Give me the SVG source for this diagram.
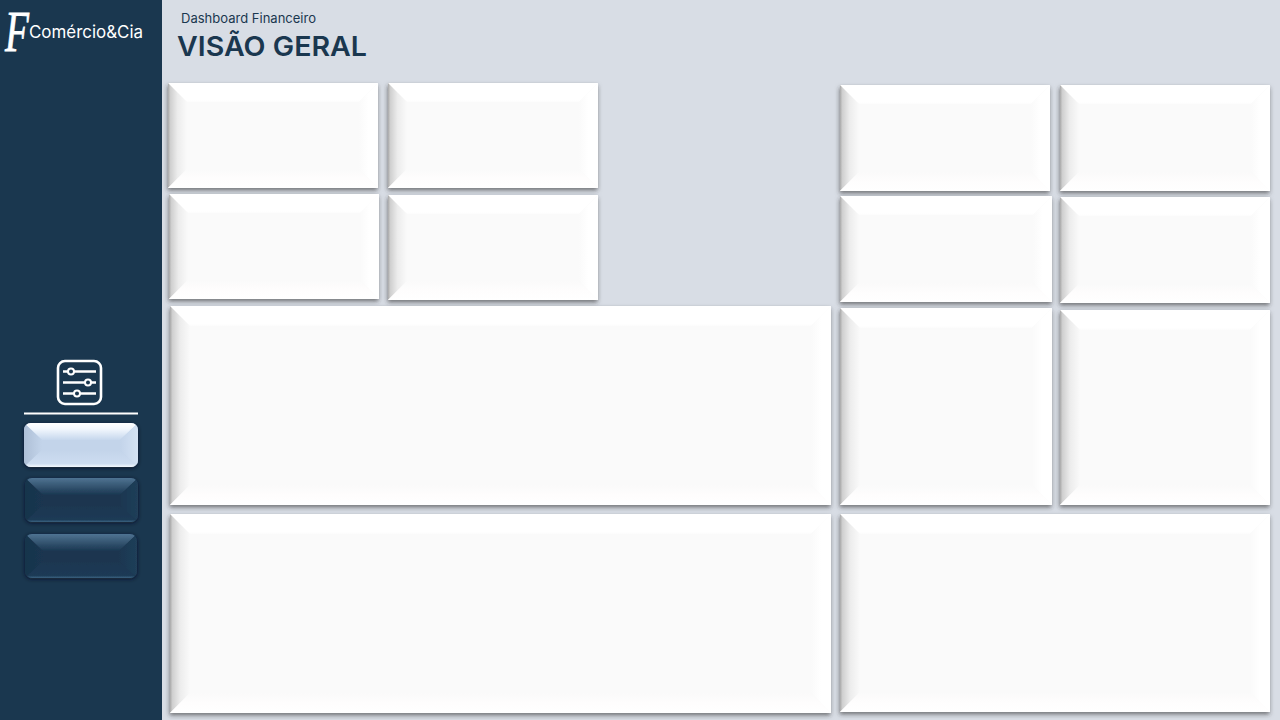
<svg xmlns="http://www.w3.org/2000/svg" width="1280" height="720" viewBox="0 0 1280 720">
<style>
.face{fill:#fafafa}.t{fill:url(#gt)}.r{fill:url(#gr)}.b{fill:url(#gb)}.l{fill:url(#gl)}
.card{filter:url(#sh)}
.title{font-family:Inter,"Open Sans",sans-serif;fill:#1a374f}
.ic{fill:none;stroke:#fff;stroke-width:2.6}
.bf{fill:#c3d4ea}.bt{fill:url(#lt)}.bl{fill:url(#ll)}.br{fill:url(#lr)}.bb{fill:url(#lb)}
.df{fill:#1a3650}.dt{fill:url(#dt)}.dl{fill:url(#dlg)}.dr{fill:url(#drg)}.db{fill:url(#db)}
</style>
<defs>
<linearGradient id="gt" x1="0" y1="0" x2="0" y2="1"><stop offset="0" stop-color="#fff"/><stop offset=".9" stop-color="#fff"/><stop offset="1" stop-color="#fcfcfc"/></linearGradient>
<linearGradient id="gr" x1="1" y1="0" x2="0" y2="0"><stop offset="0" stop-color="#fff"/><stop offset=".5" stop-color="#fff"/><stop offset="1" stop-color="#fafafa"/></linearGradient>
<linearGradient id="gb" x1="0" y1="1" x2="0" y2="0"><stop offset="0" stop-color="#fff"/><stop offset=".5" stop-color="#fefdfd"/><stop offset="1" stop-color="#fafafa"/></linearGradient>
<linearGradient id="gl" x1="0" y1="0" x2="1" y2="0"><stop offset="0" stop-color="#a8a8a8"/><stop offset=".12" stop-color="#cfcfcf"/><stop offset=".5" stop-color="#ececec"/><stop offset="1" stop-color="#fafafa"/></linearGradient>
<linearGradient id="lt" x1="0" y1="0" x2="0" y2="1"><stop offset="0" stop-color="#fff"/><stop offset=".35" stop-color="#f2f7fd"/><stop offset="1" stop-color="#c6d7ed"/></linearGradient>
<linearGradient id="ll" x1="0" y1="0" x2="1" y2="0"><stop offset="0" stop-color="#aebfd6"/><stop offset="1" stop-color="#c3d4ea"/></linearGradient>
<linearGradient id="lr" x1="1" y1="0" x2="0" y2="0"><stop offset="0" stop-color="#d4e2f4"/><stop offset="1" stop-color="#c3d4ea"/></linearGradient>
<linearGradient id="lb" x1="0" y1="1" x2="0" y2="0"><stop offset="0" stop-color="#f5f9fe"/><stop offset=".2" stop-color="#cddcf0"/><stop offset="1" stop-color="#c3d4ea"/></linearGradient>
<linearGradient id="dt" x1="0" y1="0" x2="0" y2="1"><stop offset="0" stop-color="#4f7392"/><stop offset=".4" stop-color="#3a5b77"/><stop offset="1" stop-color="#1a3751"/></linearGradient>
<linearGradient id="dlg" x1="0" y1="0" x2="1" y2="0"><stop offset="0" stop-color="#18344c"/><stop offset="1" stop-color="#1a3650"/></linearGradient>
<linearGradient id="drg" x1="1" y1="0" x2="0" y2="0"><stop offset="0" stop-color="#203f59"/><stop offset="1" stop-color="#1a3650"/></linearGradient>
<linearGradient id="db" x1="0" y1="1" x2="0" y2="0"><stop offset="0" stop-color="#3a6280"/><stop offset=".15" stop-color="#1c3a55"/><stop offset="1" stop-color="#1a3650"/></linearGradient>
<filter id="sh" x="-5%" y="-5%" width="110%" height="112%"><feDropShadow dx="-0.5" dy="2.5" stdDeviation="2" flood-color="#333" flood-opacity=".6"/></filter>
<filter id="bs" x="-10%" y="-15%" width="120%" height="135%"><feDropShadow dx="0" dy="1" stdDeviation="2" flood-color="#0a1824" flood-opacity=".75"/></filter>
<clipPath id="c1"><rect x="24" y="423" width="114" height="44" rx="7"/></clipPath>
<clipPath id="c2"><rect x="25" y="478" width="113" height="44" rx="7"/></clipPath>
<clipPath id="c3"><rect x="25" y="534" width="112" height="44" rx="7"/></clipPath>
</defs>
<rect width="1280" height="720" fill="#d8dde5"/>
<rect id="sidebar" width="162" height="720" fill="#1a374f"/>
<g id="logo" fill="#fff">
<text transform="translate(5,51) scale(.7,1)" font-family="'Liberation Serif',serif" font-style="italic" font-size="56" stroke="#fff" stroke-width=".8">F</text>
<text x="29" y="38" font-family="Inter,'Open Sans',sans-serif" font-size="17" textLength="114" lengthAdjust="spacingAndGlyphs">Comércio&amp;Cia</text>
</g>
<g id="header">
<text class="title" x="181" y="23" font-size="13" textLength="135" lengthAdjust="spacingAndGlyphs">Dashboard Financeiro</text>
<text class="title" x="177" y="56" font-size="27" font-weight="600" textLength="190" lengthAdjust="spacingAndGlyphs">VISÃO GERAL</text>
</g>
<g id="filter-icon">
<rect class="ic" x="58" y="361" width="43" height="43" rx="7"/>
<path class="ic" d="M63 371.500H96M63 382.500H96M63 393.500H96"/>
<circle cx="71" cy="371.500" r="3" fill="#1a374f" stroke="#fff" stroke-width="2"/>
<circle cx="88" cy="382.500" r="3" fill="#1a374f" stroke="#fff" stroke-width="2"/>
<circle cx="77" cy="393.500" r="3" fill="#1a374f" stroke="#fff" stroke-width="2"/>
<path d="M24 413.500H138" stroke="#fff" stroke-width="2"/>
</g>
<g id="btn1" filter="url(#bs)"><g clip-path="url(#c1)">
<rect class="bf" x="24" y="423" width="114" height="44"/>
<polygon class="bt" points="24,423 138,423 120,440 42,440"/><polygon class="bl" points="24,423 42,440 42,450 24,467"/><polygon class="br" points="138,423 120,440 120,450 138,467"/><polygon class="bb" points="24,467 42,450 120,450 138,467"/>
</g></g>
<g id="btn2" filter="url(#bs)"><g clip-path="url(#c2)">
<rect class="df" x="25" y="478" width="113" height="44"/>
<polygon class="dt" points="25,478 138,478 120,495 43,495"/><polygon class="dl" points="25,478 43,495 43,505 25,522"/><polygon class="dr" points="138,478 120,495 120,505 138,522"/><polygon class="db" points="25,522 43,505 120,505 138,522"/>
</g></g>
<g id="btn3" filter="url(#bs)"><g clip-path="url(#c3)">
<rect class="df" x="25" y="534" width="112" height="44"/>
<polygon class="dt" points="25,534 137,534 119,551 43,551"/><polygon class="dl" points="25,534 43,551 43,561 25,578"/><polygon class="dr" points="137,534 119,551 119,561 137,578"/><polygon class="db" points="25,578 43,561 119,561 137,578"/>
</g></g>
<g id="card1" class="card"><rect class="face" x="168" y="83" width="210" height="105"/><polygon class="t" points="168,83 378,83 359,102 187,102"/><polygon class="l" points="168,83 187,102 187,169 168,188"/><polygon class="r" points="378,83 359,102 359,169 378,188"/><polygon class="b" points="168,188 187,169 359,169 378,188"/></g>
<g id="card2" class="card"><rect class="face" x="388" y="83" width="210" height="105"/><polygon class="t" points="388,83 598,83 579,102 407,102"/><polygon class="l" points="388,83 407,102 407,169 388,188"/><polygon class="r" points="598,83 579,102 579,169 598,188"/><polygon class="b" points="388,188 407,169 579,169 598,188"/></g>
<g id="card3" class="card"><rect class="face" x="169" y="194" width="210" height="105"/><polygon class="t" points="169,194 379,194 360,213 188,213"/><polygon class="l" points="169,194 188,213 188,280 169,299"/><polygon class="r" points="379,194 360,213 360,280 379,299"/><polygon class="b" points="169,299 188,280 360,280 379,299"/></g>
<g id="card4" class="card"><rect class="face" x="388" y="195" width="210" height="105"/><polygon class="t" points="388,195 598,195 579,214 407,214"/><polygon class="l" points="388,195 407,214 407,281 388,300"/><polygon class="r" points="598,195 579,214 579,281 598,300"/><polygon class="b" points="388,300 407,281 579,281 598,300"/></g>
<g id="card5" class="card"><rect class="face" x="840" y="85" width="210" height="106"/><polygon class="t" points="840,85 1050,85 1031,104 859,104"/><polygon class="l" points="840,85 859,104 859,172 840,191"/><polygon class="r" points="1050,85 1031,104 1031,172 1050,191"/><polygon class="b" points="840,191 859,172 1031,172 1050,191"/></g>
<g id="card6" class="card"><rect class="face" x="1060" y="85" width="210" height="106"/><polygon class="t" points="1060,85 1270,85 1251,104 1079,104"/><polygon class="l" points="1060,85 1079,104 1079,172 1060,191"/><polygon class="r" points="1270,85 1251,104 1251,172 1270,191"/><polygon class="b" points="1060,191 1079,172 1251,172 1270,191"/></g>
<g id="card7" class="card"><rect class="face" x="840" y="196" width="212" height="106"/><polygon class="t" points="840,196 1052,196 1033,215 859,215"/><polygon class="l" points="840,196 859,215 859,283 840,302"/><polygon class="r" points="1052,196 1033,215 1033,283 1052,302"/><polygon class="b" points="840,302 859,283 1033,283 1052,302"/></g>
<g id="card8" class="card"><rect class="face" x="1060" y="197" width="210" height="106"/><polygon class="t" points="1060,197 1270,197 1251,216 1079,216"/><polygon class="l" points="1060,197 1079,216 1079,284 1060,303"/><polygon class="r" points="1270,197 1251,216 1251,284 1270,303"/><polygon class="b" points="1060,303 1079,284 1251,284 1270,303"/></g>
<g id="card9" class="card"><rect class="face" x="170" y="306" width="661" height="199"/><polygon class="t" points="170,306 831,306 811,326 190,326"/><polygon class="l" points="170,306 190,326 190,485 170,505"/><polygon class="r" points="831,306 811,326 811,485 831,505"/><polygon class="b" points="170,505 190,485 811,485 831,505"/></g>
<g id="card10" class="card"><rect class="face" x="840" y="308" width="212" height="197"/><polygon class="t" points="840,308 1052,308 1032,328 860,328"/><polygon class="l" points="840,308 860,328 860,485 840,505"/><polygon class="r" points="1052,308 1032,328 1032,485 1052,505"/><polygon class="b" points="840,505 860,485 1032,485 1052,505"/></g>
<g id="card11" class="card"><rect class="face" x="1060" y="310" width="210" height="195"/><polygon class="t" points="1060,310 1270,310 1250,330 1080,330"/><polygon class="l" points="1060,310 1080,330 1080,485 1060,505"/><polygon class="r" points="1270,310 1250,330 1250,485 1270,505"/><polygon class="b" points="1060,505 1080,485 1250,485 1270,505"/></g>
<g id="card12" class="card"><rect class="face" x="170" y="514" width="661" height="199"/><polygon class="t" points="170,514 831,514 811,534 190,534"/><polygon class="l" points="170,514 190,534 190,693 170,713"/><polygon class="r" points="831,514 811,534 811,693 831,713"/><polygon class="b" points="170,713 190,693 811,693 831,713"/></g>
<g id="card13" class="card"><rect class="face" x="840" y="514" width="430" height="198"/><polygon class="t" points="840,514 1270,514 1250,534 860,534"/><polygon class="l" points="840,514 860,534 860,692 840,712"/><polygon class="r" points="1270,514 1250,534 1250,692 1270,712"/><polygon class="b" points="840,712 860,692 1250,692 1270,712"/></g>
</svg>
